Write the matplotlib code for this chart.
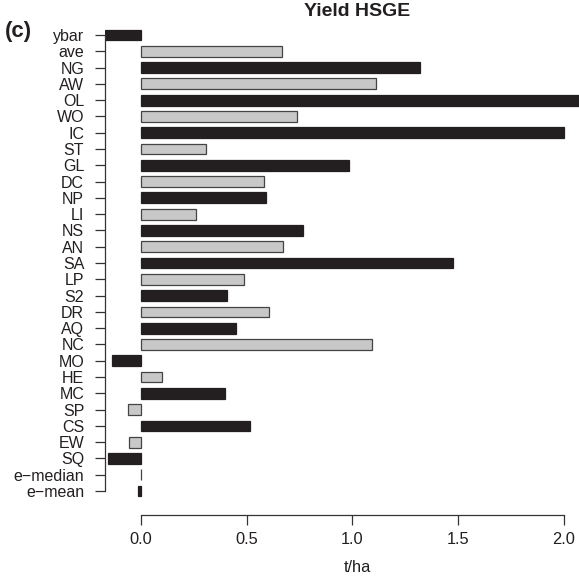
import matplotlib
matplotlib.use('Agg')
import matplotlib.pyplot as plt

plt.rcParams['font.family'] = ['Liberation Sans', 'DejaVu Sans']

# bar labels, top to bottom
labels = ['ybar', 'ave', 'NG', 'AW', 'OL', 'WO', 'IC', 'ST', 'GL', 'DC',
          'NP', 'LI', 'NS', 'AN', 'SA', 'LP', 'S2', 'DR', 'AQ', 'NC',
          'MO', 'HE', 'MC', 'SP', 'CS', 'EW', 'SQ', 'e\u2212median', 'e\u2212mean']
# yield values (t/ha)
values = [-0.17, 0.667, 1.319, 1.11, 2.12, 0.739, 1.998, 0.307, 0.985, 0.583,
          0.591, 0.26, 0.766, 0.67, 1.475, 0.486, 0.408, 0.605, 0.449, 1.092,
          -0.139, 0.10, 0.399, -0.061, 0.515, -0.055, -0.155, 0.002, -0.016]
xticks = [0.0, 0.5, 1.0, 1.5, 2.0]

dark = '#231f20'
light = '#c8c8c8'

W, H = 579, 578
fig = plt.figure(figsize=(W / 100, H / 100), dpi=100)
ax = fig.add_axes([105 / W, (H - 515) / H, 1 - 105 / W, (515 - 20) / H])

pos = list(range(len(labels)))
colors = [dark if i % 2 == 0 else light for i in pos]
edges = [dark if i % 2 == 0 else '#444444' for i in pos]
ax.barh(pos, values, height=0.66, color=colors, edgecolor=edges, linewidth=0.9)

ax.set_xlim(-0.170, 2.071)
ax.set_ylim(29.47, -0.92)

for s in ['top', 'right']:
    ax.spines[s].set_visible(False)
ax.spines['left'].set_bounds(0, len(labels) - 1)
ax.spines['bottom'].set_bounds(0, 2)
for s in ['left', 'bottom']:
    ax.spines[s].set_color('#333333')
    ax.spines[s].set_linewidth(0.9)

ax.set_yticks(pos)
ax.set_yticklabels(labels)
ax.set_xticks(xticks)
ax.set_xticklabels([f'{t:.1f}' for t in xticks])
ax.tick_params(axis='y', length=7, width=0.9, pad=8, labelsize=11.5,
               colors='#333333', labelcolor=dark)
ax.tick_params(axis='x', length=7, width=0.9, pad=5, labelsize=11.8,
               colors='#333333', labelcolor=dark)

fig.text(357 / W, 1 - 12 / H, 'Yield HSGE', ha='center', va='center',
         fontsize=14, fontweight='bold', color=dark)
fig.text(357 / W, 1 - 567 / H, 't/ha', ha='center', va='center',
         fontsize=11.8, color=dark)
fig.text(5 / W, 1 - 31 / H, '(c)', ha='left', va='center',
         fontsize=16, fontweight='bold', color=dark)

fig.savefig('out.png', dpi=100)
